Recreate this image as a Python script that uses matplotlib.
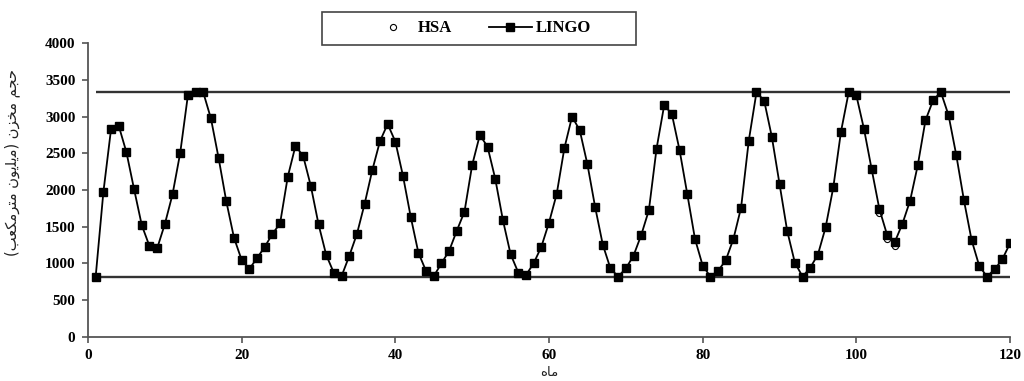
import matplotlib
matplotlib.use("Agg")
import matplotlib.pyplot as plt
from matplotlib.patches import Rectangle
import numpy as np

# Monthly reservoir storage (million m3) over a 120-month horizon
months = list(range(1, 121))
lingo = [
    820, 1970, 2830, 2875, 2515, 2010, 1520, 1235, 1205, 1535,
    1940, 2505, 3290, 3330, 3330, 2975, 2435, 1845, 1350, 1045,
    925, 1070, 1225, 1400, 1545, 2180, 2600, 2465, 2055, 1535,
    1115, 870, 825, 1100, 1400, 1810, 2270, 2665, 2900, 2660,
    2190, 1635, 1145, 895, 825, 1000, 1170, 1445, 1705, 2340,
    2750, 2590, 2155, 1590, 1125, 875, 840, 1000, 1225, 1555,
    1945, 2570, 3000, 2815, 2350, 1770, 1255, 930, 820, 930,
    1105, 1385, 1725, 2565, 3160, 3030, 2540, 1943, 1333, 970,
    820, 898, 1040, 1332, 1760, 2672, 3330, 3220, 2726, 2085,
    1443, 1009, 820, 940, 1120, 1490, 2035, 2794, 3330, 3290,
    2830, 2280, 1740, 1390, 1290, 1540, 1855, 2340, 2950, 3225,
    3335, 3020, 2480, 1863, 1318, 964, 820, 918, 1055, 1273,
]
hsa = list(lingo)
hsa[102] = 1690   # month 103
hsa[103] = 1330   # month 104
hsa[104] = 1240   # month 105

storage_max = 3330
storage_min = 820

x_ticks = [0, 20, 40, 60, 80, 100, 120]
y_ticks = list(range(0, 4001, 500))

series_names = ["HSA", "LINGO"]

# Persian labels in pre-shaped presentation forms, laid out in visual order
ylabel_text = ("(\uFE90\uFECC\uFB91\uFEE3\uFEAE\uFE98\uFEE3 "
               "\uFEE5\uFEEE\uFBFE\uFEE0\uFBFE\uFEE3) "
               "\uFEE5\uFEB0\uFEA8\uFEE3 "
               "\uFEE2\uFEA0\uFEA3")
xlabel_text = "\uFEE9\uFE8E\uFEE3"

serif = ["Liberation Serif", "DejaVu Serif"]

fig = plt.figure(figsize=(10.24, 3.81), dpi=100)
ax = fig.add_axes([88 / 1024, 1 - 336.7 / 381, 922 / 1024, 293.4 / 381])

ax.hlines([storage_max, storage_min], months[0], months[-1],
          colors="#333333", linewidth=1.7, zorder=2)

h_hsa, = ax.plot(months, hsa, linestyle="none", marker="o", markersize=4.4,
                 markerfacecolor="white", markeredgecolor="black",
                 markeredgewidth=0.8, zorder=3)
h_lingo, = ax.plot(months, lingo, color="black", linewidth=1.3, marker="s",
                   markersize=5.8, markerfacecolor="black",
                   markeredgecolor="black", zorder=4)

ax.set_xlim(0, 120)
ax.set_ylim(0, 4000)
ax.set_xticks(x_ticks)
ax.set_yticks(y_ticks)

for side in ["top", "right"]:
    ax.spines[side].set_visible(False)
for side in ["left", "bottom"]:
    ax.spines[side].set_color("#555555")
    ax.spines[side].set_linewidth(1.3)

ax.tick_params(axis="both", direction="out", length=4, width=1.2,
               color="#555555", pad=5)
for lbl in ax.get_xticklabels() + ax.get_yticklabels():
    lbl.set_fontfamily(serif)
    lbl.set_fontweight("bold")
    lbl.set_fontsize(11)

# Legend frame above the axes
fig.patches.append(Rectangle((322 / 1024, 1 - 45 / 381), 314 / 1024, 33 / 381,
                             transform=fig.transFigure, fill=False,
                             edgecolor="#444444", linewidth=1.2))
fig.legend([h_hsa, h_lingo], series_names, loc="center",
           bbox_to_anchor=(481 / 1024, 1 - 28.5 / 381), ncol=2,
           frameon=False, handlelength=2.6, handletextpad=0.2,
           columnspacing=2.2,
           prop={"family": serif, "weight": "bold", "size": 12})

fig.text(12 / 1024, 1 - 162 / 381, ylabel_text, rotation=90,
         ha="center", va="center", fontsize=10.5, family=["DejaVu Sans"],
         color="#222222")
fig.text(549 / 1024, 1 - 372 / 381, xlabel_text, ha="center", va="center",
         fontsize=9.5, family=["DejaVu Sans"], color="#222222")

fig.savefig("out.png", dpi=100, facecolor="white")
